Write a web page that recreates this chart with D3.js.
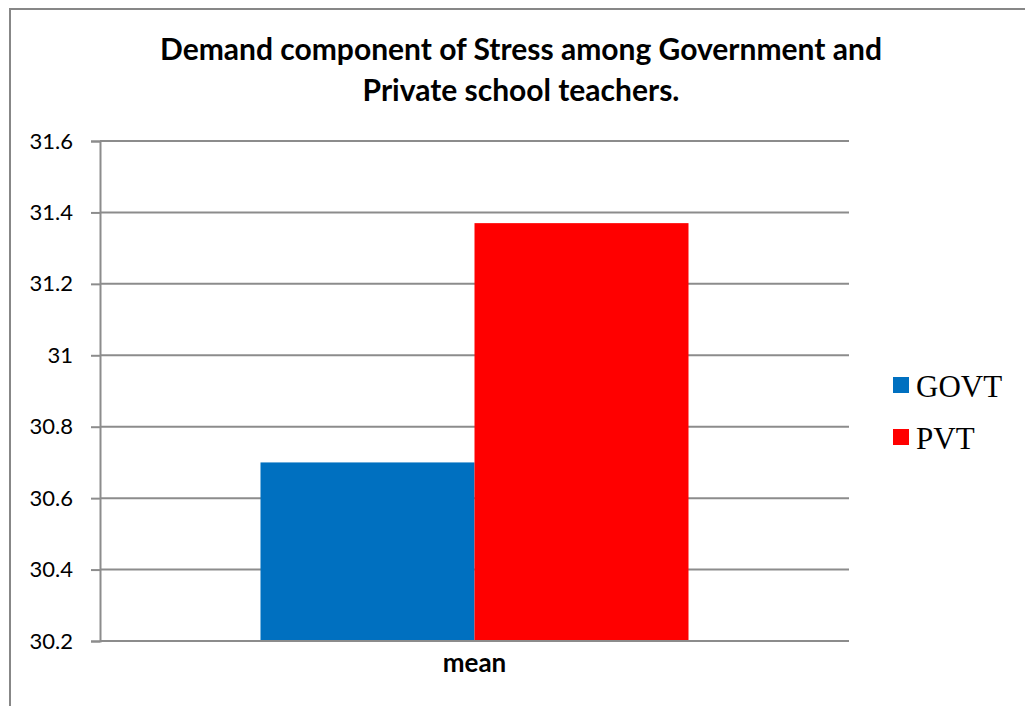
<!DOCTYPE html>
<html><head><meta charset="utf-8">
<script src="https://cdn.jsdelivr.net/npm/d3@7"></script>
<style>body{margin:0;background:#fff;}svg{display:block;}</style>
</head><body>
<script>
const categories = ["mean"];
const seriesNames = ["GOVT", "PVT"];
const govtValues = [30.70];
const pvtValues = [31.37];
const yTicks = [30.2, 30.4, 30.6, 30.8, 31, 31.2, 31.4, 31.6];
const colors = ["#0070C0", "#FF0000"];
const titleLines = ["Demand component of Stress among Government and", "Private school teachers."];

const W = 1025, H = 706;
const svg = d3.select("body").append("svg").attr("width", W).attr("height", H);
svg.append("rect").attr("width", W).attr("height", H).attr("fill", "#fff");

// outer border
svg.append("rect").attr("x", 10).attr("y", 9).attr("width", 1030).attr("height", 720)
  .attr("fill", "none").attr("stroke", "#878787").attr("stroke-width", 2);

const m = {left: 100, top: 141, right: 849, bottom: 641};
const y = d3.scaleLinear().domain([30.2, 31.6]).range([m.bottom, m.top]);
const x0 = d3.scaleBand().domain(categories).range([m.left, m.right]).paddingInner(0).paddingOuter(0.375);
const x1 = d3.scaleBand().domain(seriesNames).range([0, x0.bandwidth()]);

// gridlines
svg.append("g").selectAll("line").data(yTicks).join("line")
  .attr("x1", m.left).attr("x2", m.right)
  .attr("y1", d => y(d)).attr("y2", d => y(d))
  .attr("stroke", "#8c8c8c").attr("stroke-width", 2);

// y axis
const yAxis = d3.axisLeft(y).tickValues(yTicks).tickSize(9).tickPadding(18)
  .tickFormat(d => d3.format("")(d));
const gy = svg.append("g").attr("transform", `translate(${m.left},0)`).call(yAxis);
gy.select(".domain").attr("stroke", "#8c8c8c").attr("stroke-width", 2);
gy.selectAll(".tick line").attr("stroke", "#8c8c8c").attr("stroke-width", 2);
gy.selectAll(".tick text").attr("font-family", "Lato, 'Open Sans', sans-serif")
  .attr("font-size", 22).attr("fill", "#000");

// bars
const data = categories.map((c, i) => ({cat: c, vals: [govtValues[i], pvtValues[i]]}));
const groups = svg.append("g").selectAll("g").data(data).join("g")
  .attr("transform", d => `translate(${x0(d.cat)},0)`);
groups.selectAll("rect").data(d => d.vals.map((v, j) => ({name: seriesNames[j], v, j}))).join("rect")
  .attr("x", d => x1(d.name)).attr("width", x1.bandwidth())
  .attr("y", d => y(d.v)).attr("height", d => y(30.2) - y(d.v))
  .attr("fill", d => colors[d.j]);

// x axis baseline
svg.append("line").attr("x1", m.left).attr("x2", m.right).attr("y1", m.bottom).attr("y2", m.bottom)
  .attr("stroke", "#8c8c8c").attr("stroke-width", 2);

// category label
svg.append("g").selectAll("text").data(categories).join("text")
  .attr("x", d => x0(d) + x0.bandwidth() / 2).attr("y", 672)
  .attr("text-anchor", "middle").attr("font-family", "Lato, 'Open Sans', sans-serif")
  .attr("font-weight", "bold").attr("font-size", 26).text(d => d);

// title
svg.append("g").selectAll("text").data(titleLines).join("text")
  .attr("x", 521).attr("y", (d, i) => 60 + i * 41)
  .attr("text-anchor", "middle").attr("font-family", "Lato, 'Open Sans', sans-serif")
  .attr("font-weight", "bold").attr("font-size", 30).text(d => d);

// legend
const lg = svg.append("g").selectAll("g").data(seriesNames).join("g")
  .attr("transform", (d, i) => `translate(893,${377 + i * 52})`);
lg.append("rect").attr("width", 16).attr("height", 16).attr("fill", (d, i) => colors[i]);
lg.append("text").attr("x", 23).attr("y", 20).attr("font-family", "'Liberation Serif', 'Times New Roman', serif")
  .attr("font-size", 31).text(d => d);
</script>
</body></html>
